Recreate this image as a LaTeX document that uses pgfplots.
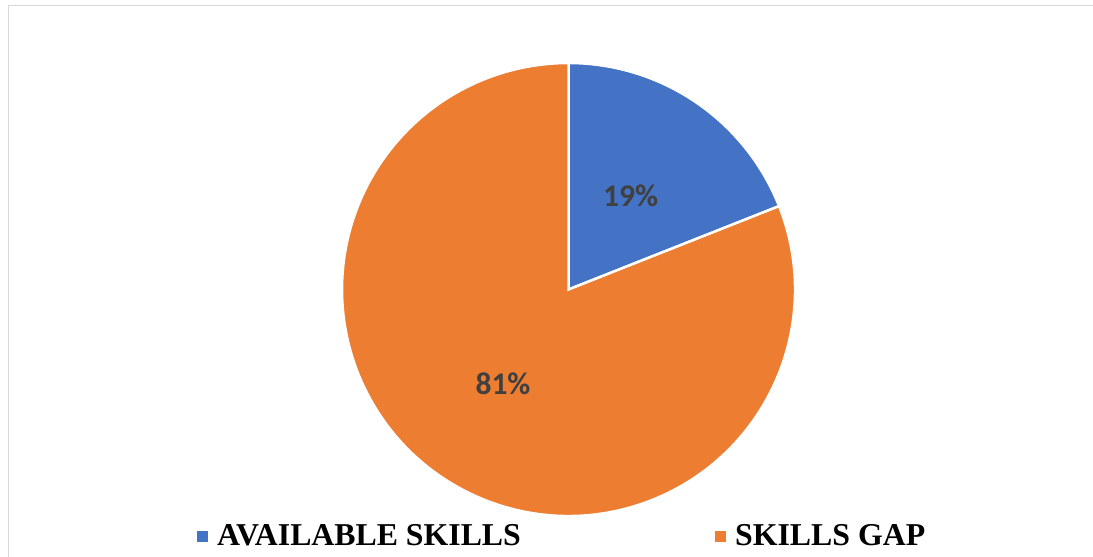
\documentclass[border=0pt]{standalone}
\usepackage{pgfplots}
\pgfplotsset{compat=1.18}
\usepackage{pgfplotstable}
\usepackage{fontspec}
\setmainfont{Liberation Serif}
\newfontfamily\carlito{Carlito}
\definecolor{cblue}{HTML}{4472C4}
\definecolor{corange}{HTML}{ED7D31}
\definecolor{lblgray}{HTML}{404040}
\definecolor{framegray}{HTML}{D9D9D9}
\pgfplotstableread{
label value
{AVAILABLE SKILLS} 19
{SKILLS GAP} 81
}\piedata
\pgfplotstablegetelem{0}{value}\of\piedata \let\va\pgfplotsretval
\pgfplotstablegetelem{1}{value}\of\piedata \let\vb\pgfplotsretval
\begin{document}
\begin{tikzpicture}
\pgfmathsetmacro{\total}{\va+\vb}
\pgfmathsetmacro{\angA}{90-360*\va/\total}
\begin{axis}[
  scale only axis, width=1093pt, height=557pt,
  xmin=0, xmax=1093, ymin=0, ymax=557, y dir=reverse,
  hide axis, clip=true,
]
% frame
\draw[framegray, line width=1.5pt] (axis cs:8.5,557) -- (axis cs:8.5,5.5) -- (axis cs:1093,5.5);
% pie
\fill[cblue, draw=white, line width=2.5pt] (axis cs:568.5,289.5) -- ++(90:226.5pt) arc[start angle=90, end angle=\angA, radius=226.5pt] -- cycle;
\fill[corange, draw=white, line width=2.5pt] (axis cs:568.5,289.5) -- ++(\angA:226.5pt) arc[start angle=\angA, end angle=-270, radius=226.5pt] -- cycle;
% labels
\node[text=lblgray, font=\carlito\bfseries\fontsize{31.5}{36}\selectfont, inner sep=0pt] at (axis cs:630.5,196) {\va\%};
\node[text=lblgray, font=\carlito\bfseries\fontsize{31.5}{36}\selectfont, inner sep=0pt] at (axis cs:503,384) {\vb\%};
% legend
\fill[cblue] (axis cs:197,531) rectangle (axis cs:208,542);
\fill[corange] (axis cs:715,531) rectangle (axis cs:726,542);
\node[anchor=base west, inner sep=0pt, font=\bfseries\fontsize{31.8}{36}\selectfont] at (axis cs:217,545.5) {AVAILABLE SKILLS};
\node[anchor=base west, inner sep=0pt, font=\bfseries\fontsize{31.8}{36}\selectfont] at (axis cs:735,545.5) {SKILLS GAP};
\end{axis}
\pgfresetboundingbox
\path[use as bounding box] (current axis.south west) rectangle (current axis.north east);
\end{tikzpicture}
\end{document}
